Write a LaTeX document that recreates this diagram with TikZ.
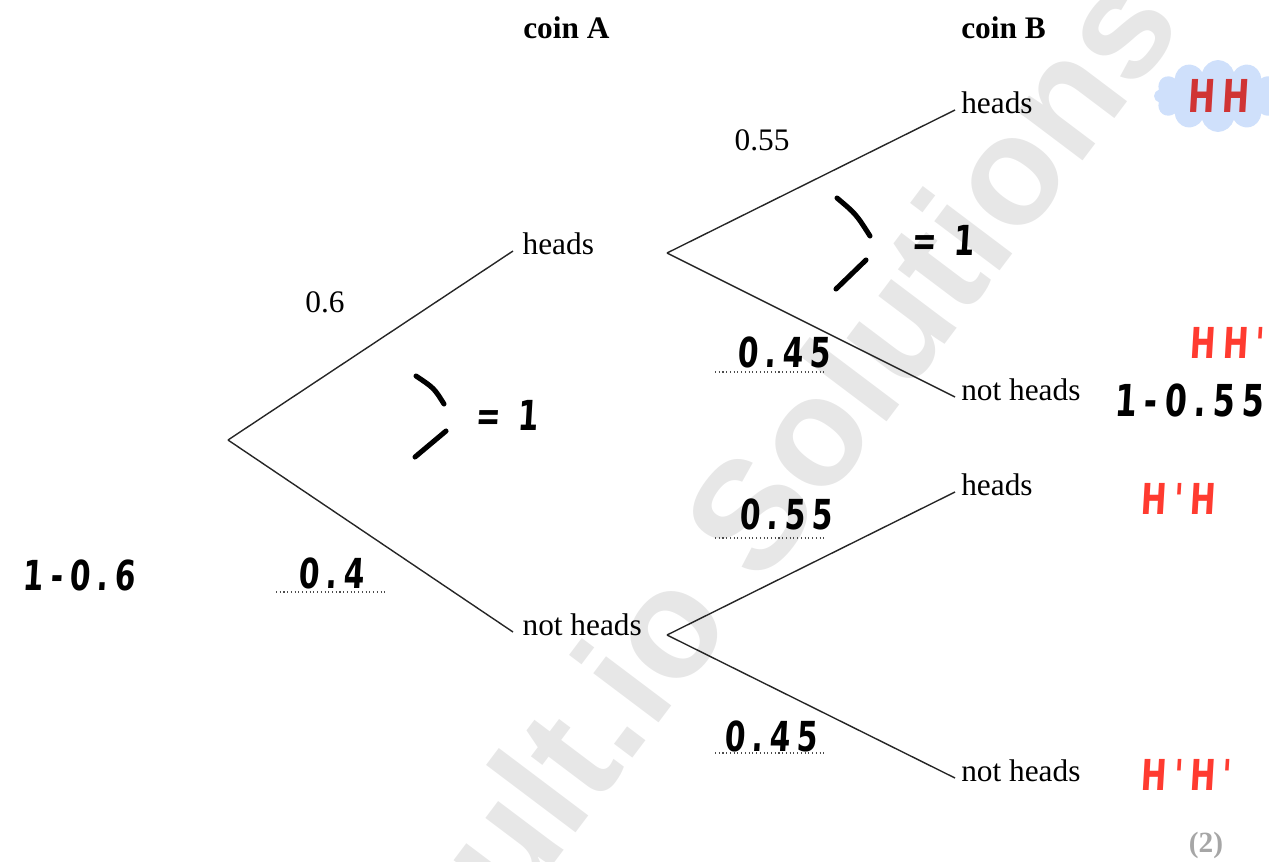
\documentclass[tikz,border=0pt]{standalone}
\usepackage{fontspec}
\setmainfont{Liberation Serif}
\newfontfamily\hand[FakeStretch=0.72,LetterSpace=16,FakeSlant=0.06]{DejaVu Sans}
\newfontfamily\wmfont{Liberation Sans}
\usetikzlibrary{shapes.symbols}
\definecolor{hred}{RGB}{255,59,48}
\definecolor{hdred}{RGB}{208,52,52}
\definecolor{cloudblue}{RGB}{207,224,251}
\definecolor{wmgray}{RGB}{231,231,231}
\newcommand\fsz[1]{\fontsize{#1}{#1}\selectfont}
\tikzset{
  lbl/.style={anchor=mid west,inner ysep=0pt,font=\fsz{23.5}},
  lblA/.style={lbl,inner xsep=7pt},
  lblB/.style={lbl,inner xsep=4.5pt},
  head/.style={anchor=west,inner sep=0pt,font=\fsz{23.5}\bfseries},
  branch/.style={line width=1.05pt,black!85},
  hw/.style={inner sep=0pt,font=\hand\bfseries\fsz{31}},
  hwred/.style={hw,text=hred},
  stroke/.style={line width=3.8pt,line cap=round},
  dotline/.style={dotted,line width=0.8pt,black!70},
}
\begin{document}
\begin{tikzpicture}[x=0.75pt,y=-0.75pt]
\useasboundingbox (0,0) rectangle (1269,861);
\begin{scope}
\clip (0,0) rectangle (1269,861);
\node[rotate=53,text=wmgray,font=\wmfont\bfseries\fsz{116},inner sep=0pt] (wm) at (805,438) {ult.io Solutions};
\end{scope}

% headers
\node[head] (coinA) at (523,28) {coin A};
\node[head] (coinB) at (961,28) {coin B};

% tree
\coordinate (root) at (228,440);
\node[lblA] (aH) at (513,251) {heads};
\node[lblA] (aN) at (513,632) {not heads};
\coordinate (sH) at (667,253);
\coordinate (sN) at (667,635);
\node[lblB] (bHH) at (955,110) {heads};
\node[lblB] (bHN) at (955,397) {not heads};
\node[lblB] (bNH) at (955,492) {heads};
\node[lblB] (bNN) at (955,778) {not heads};

\draw[branch] (root) -- (aH.mid west);
\draw[branch] (root) -- (aN.mid west);
\draw[branch] (sH) -- (bHH.mid west);
\draw[branch] (sH) -- (bHN.mid west);
\draw[branch] (sN) -- (bNH.mid west);
\draw[branch] (sN) -- (bNN.mid west);

% printed probabilities
\node[font=\fsz{23.5}] (p06) at (325,302) {0.6};
\node[font=\fsz{23.5}] (p055) at (762,140) {0.55};

% dotted answer lines
\draw[dotline] (276,592) -- (385,592);
\draw[dotline] (715,372) -- (824,372);
\draw[dotline] (715,538) -- (824,538);
\draw[dotline] (715,753) -- (824,753);

% handwritten
\node[hw] (h04) at (331,573) {0.4};
\node[hw] (h045a) at (784,352) {0.45};
\node[hw] (h055) at (786,514) {0.55};
\node[hw] (h045b) at (771,736) {0.45};
\node[hw] (h106) at (79,575) {1-0.6};
\node[hw,font=\hand\bfseries\fsz{33}] (h1055) at (1189,400) {1-0.55};

\draw[stroke] (416,376) .. controls (434,388) .. (444,404);
\draw[stroke] (446,431) -- (415,457);
\node[hw] (eq1) at (507,415) {= 1};
\draw[stroke] (837,198) .. controls (856,214) .. (870,236);
\draw[stroke] (866,260) -- (836,289);
\node[hw] (eq2) at (943,240) {= 1};

% outcomes
\node[cloud,cloud puffs=12,aspect=1.8,fill=cloudblue,minimum width=96,minimum height=54,inner sep=0pt] (cl) at (1218,96) {};
\node[hw,text=hdred,font=\hand\bfseries\fsz{34}] (oHH) at (cl.center) {HH};
\node[hwred,font=\hand\bfseries\fsz{32}] (oHHp) at (1227,343) {HH'};
\node[hwred,font=\hand\bfseries\fsz{32}] (oNH) at (1178,499) {H'H};
\node[hwred,font=\hand\bfseries\fsz{32}] (oNN) at (1186,775) {H'H'};

\node[text=gray!70,font=\fsz{22}\bfseries] (mk) at (1206,845) {(2)};
\end{tikzpicture}
\end{document}
